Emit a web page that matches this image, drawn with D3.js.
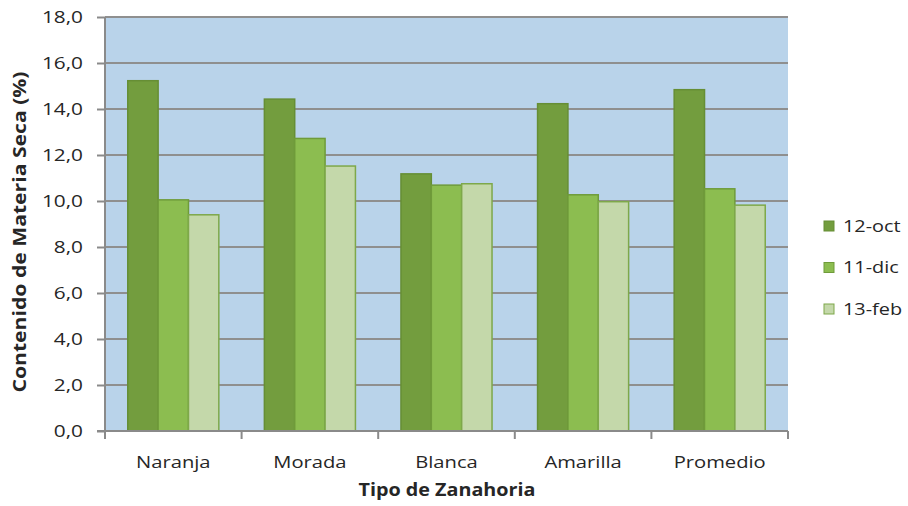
<!DOCTYPE html>
<html>
<head>
<meta charset="utf-8">
<script src="https://cdn.jsdelivr.net/npm/d3@7"></script>
<style>
  body { margin: 0; background: #fff; }
  svg text { font-family: "Open Sans", "Liberation Sans", sans-serif; fill: #262626; }
</style>
</head>
<body>
<script>
// chart data
var categories = ["Naranja", "Morada", "Blanca", "Amarilla", "Promedio"];
var seriesNames = ["12-oct", "11-dic", "13-feb"];
var oct12 = [15.23, 14.43, 11.18, 14.23, 14.84];
var dic11 = [10.05, 12.72, 10.69, 10.27, 10.53];
var feb13 = [9.40, 11.52, 10.75, 9.97, 9.82];
var yTicks = [0, 2, 4, 6, 8, 10, 12, 14, 16, 18];

var seriesValues = [oct12, dic11, feb13];
var fills = ["#739d3e", "#8cbd50", "#c4d8aa"];
var strokes = ["#668e35", "#6f9b3a", "#7ea84a"];

// widen text a bit, the original labels are drawn wide
var stretch = function(sel, k) {
  sel.each(function() {
    var w = this.getComputedTextLength();
    d3.select(this).attr("textLength", w * k).attr("lengthAdjust", "spacingAndGlyphs");
  });
};

var svg = d3.select("body").append("svg")
            .attr("width", 908)
            .attr("height", 506);

var plotLeft = 105, plotRight = 788, plotTop = 17, plotBottom = 431;

var x = d3.scaleBand().domain(categories).range([plotLeft, plotRight]);
var y = d3.scaleLinear().domain([0, 18]).range([plotBottom, plotTop]);

// plot background
svg.append("rect")
   .attr("x", plotLeft).attr("y", plotTop)
   .attr("width", plotRight - plotLeft).attr("height", plotBottom - plotTop)
   .style("fill", "#b9d3ea");

// gridlines
svg.selectAll("line.grid")
   .data(yTicks.slice(1))
   .enter().append("line")
   .attr("class", "grid")
   .attr("x1", plotLeft).attr("x2", plotRight)
   .attr("y1", function(d) { return y(d); })
   .attr("y2", function(d) { return y(d); })
   .style("stroke", "#8f8f8f")
   .style("stroke-width", 2);

// bars
var bw = x.bandwidth() / 4.5;
seriesValues.forEach(function(vals, s) {
  svg.selectAll("rect.s" + s)
     .data(vals)
     .enter().append("rect")
     .attr("class", "s" + s)
     .attr("x", function(d, i) { return x(categories[i]) + bw * 0.75 + s * bw; })
     .attr("y", function(d) { return y(d); })
     .attr("width", bw)
     .attr("height", function(d) { return plotBottom - y(d); })
     .style("fill", fills[s])
     .style("stroke", strokes[s])
     .style("stroke-width", 1.5);
});

// y axis
var yAxis = d3.axisLeft(y)
              .tickValues(yTicks)
              .tickSize(8)
              .tickPadding(14)
              .tickFormat(function(d) { return d3.format(".1f")(d).replace(".", ","); });
var ya = svg.append("g").attr("transform", "translate(" + plotLeft + ",0)").call(yAxis);
ya.select(".domain").attr("d", "M0," + plotTop + "V" + plotBottom).style("stroke", "#8a8a8a").style("stroke-width", 2);
ya.selectAll(".tick line").style("stroke", "#8a8a8a").style("stroke-width", 2);
ya.selectAll(".tick text")
  .style("font-size", "16px").style("fill", "#262626")
  .attr("dy", "0.36em")
  .call(stretch, 1.3);

// x axis
var xAxis = d3.axisBottom(x).tickSize(0);
var xa = svg.append("g").attr("transform", "translate(0," + plotBottom + ")").call(xAxis);
xa.select(".domain").attr("d", "M" + (plotLeft - 8) + ",0H" + plotRight).style("stroke", "#8a8a8a").style("stroke-width", 2);
xa.selectAll(".tick text")
  .attr("y", 37).attr("dy", 0)
  .style("font-size", "16px").style("fill", "#262626")
  .call(stretch, 1.26);
xa.selectAll("line.sep")
  .data(d3.range(categories.length + 1))
  .enter().append("line")
  .attr("class", "sep")
  .attr("x1", function(i) { return plotLeft + i * x.step(); })
  .attr("x2", function(i) { return plotLeft + i * x.step(); })
  .attr("y1", 0).attr("y2", 8)
  .style("stroke", "#8a8a8a").style("stroke-width", 2);

// axis titles
svg.append("text")
   .attr("transform", "translate(26,232) rotate(-90)")
   .attr("text-anchor", "middle")
   .attr("textLength", 321).attr("lengthAdjust", "spacingAndGlyphs")
   .style("font-size", "17px").style("font-weight", "bold")
   .text("Contenido de Materia Seca (%)");

svg.append("text")
   .attr("x", 447).attr("y", 496)
   .attr("text-anchor", "middle")
   .attr("textLength", 177).attr("lengthAdjust", "spacingAndGlyphs")
   .style("font-size", "17px").style("font-weight", "bold")
   .text("Tipo de Zanahoria");

// legend
var legend = svg.selectAll("g.leg")
                .data(seriesNames)
                .enter().append("g")
                .attr("class", "leg")
                .attr("transform", function(d, i) { return "translate(824," + (221 + i * 41.5) + ")"; });
legend.append("rect")
      .attr("width", 10).attr("height", 10)
      .style("fill", function(d, i) { return fills[i]; })
      .style("stroke", function(d, i) { return strokes[i]; });
legend.append("text")
      .attr("x", 19).attr("y", 10.5)
      .style("font-size", "16px")
      .text(function(d) { return d; })
      .call(stretch, 1.24);
</script>
</body>
</html>
